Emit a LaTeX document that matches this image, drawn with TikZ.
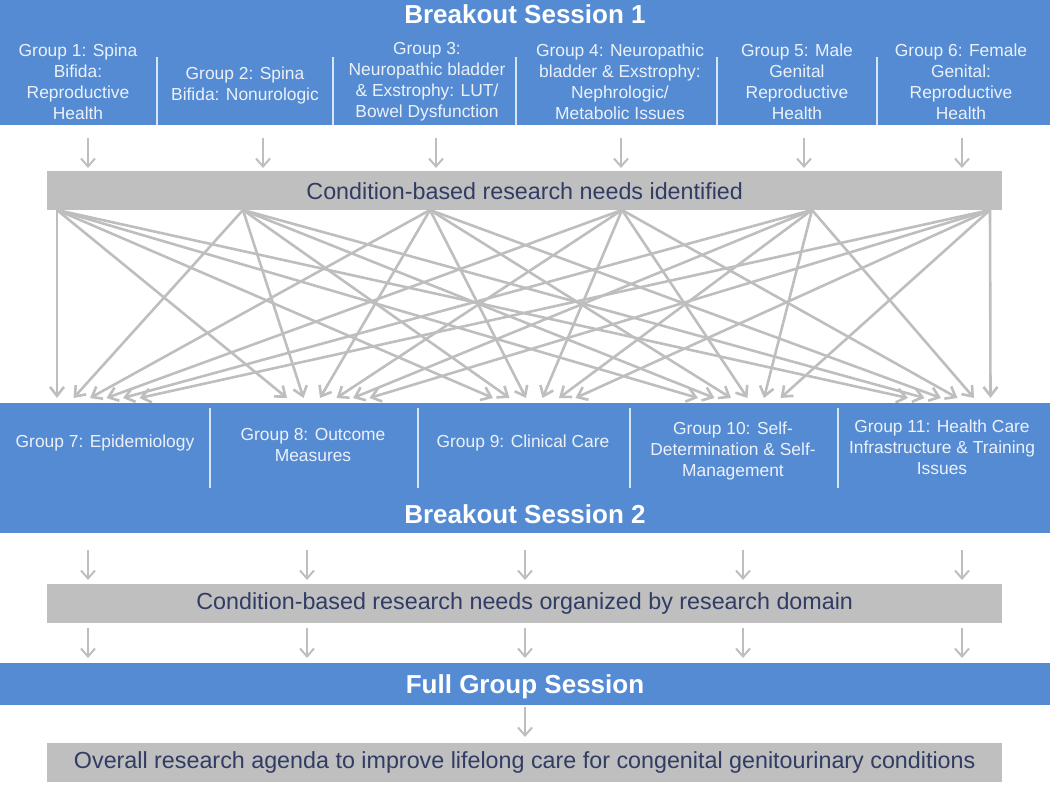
\documentclass[tikz,border=0pt]{standalone}
\usepackage{fontspec}
\setmainfont{Liberation Sans}
\usetikzlibrary{arrows.meta}
\definecolor{bandblue}{RGB}{84,139,211}
\definecolor{boxgray}{RGB}{191,191,191}
\definecolor{arrowgray}{RGB}{190,190,190}
\definecolor{navytext}{RGB}{48,60,100}
\definecolor{grouptext}{RGB}{236,241,249}
\definecolor{sepline}{RGB}{215,228,245}
\begin{document}
\begin{tikzpicture}[x=1pt,y=-1pt,
  band/.style={fill=bandblue,draw=none,inner sep=0pt,anchor=north west,minimum width=1050pt},
  sessiontitle/.style={text=white,font=\fontsize{26}{30}\selectfont\bfseries,inner sep=0pt},
  grp/.style={text=grouptext,font=\fontsize{17.4}{21}\selectfont,align=center,inner sep=0pt},
  graybox/.style={fill=boxgray,draw=none,anchor=north west,minimum width=955pt,minimum height=39pt,inner sep=0pt,text=navytext,font=\fontsize{23.3}{27}\selectfont},
  sepl/.style={draw=sepline,line width=2pt},
  downarrow/.style={draw=arrowgray,line width=2pt,-{Straight Barb[length=8pt,width=14pt]}},
  crossarrow/.style={draw=arrowgray,line width=2.6pt,-{Straight Barb[length=9pt,width=14pt]}}
]
\useasboundingbox (0,0) rectangle (1050,786);

% ---------- Breakout session 1 ----------
\node[band,minimum height=125pt] (band1) at (0,0) {};
\node[sessiontitle] (t1) at (525,14) {Breakout Session 1};
\node[grp] (g1) at (78,82) {Group 1: Spina\\Bifida:\\Reproductive\\Health};
\node[grp] (g2) at (245,86) {Group 2: Spina\\Bifida: Nonurologic};
\node[grp] (g3) at (427,82) {Group 3:\\Neuropathic bladder\\\& Exstrophy: LUT/\\Bowel Dysfunction};
\node[grp] (g4) at (620,82) {Group 4: Neuropathic\\bladder \& Exstrophy:\\Nephrologic/\\Metabolic Issues};
\node[grp] (g5) at (797,82) {Group 5: Male\\Genital\\Reproductive\\Health};
\node[grp] (g6) at (961,82) {Group 6: Female\\Genital:\\Reproductive\\Health};
\foreach \x in {157,333,516,717,877} \draw[sepl] (\x,57) -- (\x,125);

\node[graybox] (box1) at (47,171) {};
\node[text=navytext,font=\fontsize{23.3}{27}\selectfont,inner sep=0pt] at (box1.center) {Condition-based research needs identified};

\foreach \x [count=\k] in {88,263,436,621,804,962} {
  \coordinate (a\k) at (\x,138);
  \draw[downarrow,shorten >=3pt] (a\k) -- (a\k |- box1.north);
}

% ---------- crossing connectors ----------
\foreach \sx [count=\i] in {57,243,430,622,812,990} {
  \coordinate (s\i) at (\sx,210);
  \foreach \bx [count=\j] in {57,287,493,698,908} {
    \coordinate (t\j-\i) at ({\bx+(\i-1)*16.5},398);
    \draw[crossarrow] (s\i) -- (t\j-\i);
  }
}

% ---------- Breakout session 2 ----------
\node[band,minimum height=130pt] (band2) at (0,403) {};
\node[grp] (g7) at (105,443) {Group 7: Epidemiology};
\node[grp] (g8) at (313,445) {Group 8: Outcome\\Measures};
\node[grp] (g9) at (523,443) {Group 9: Clinical Care};
\node[grp] (g10) at (733,451) {Group 10: Self-\\Determination \& Self-\\Management};
\node[grp] (g11) at (942,447) {Group 11: Health Care\\Infrastructure \& Training\\Issues};
\foreach \x in {210,418,630,838} \draw[sepl] (\x,408) -- (\x,488);
\node[sessiontitle] (t2) at (525,514) {Breakout Session 2};

\node[graybox] (box2) at (47,584) {};
\node[text=navytext,font=\fontsize{23.3}{27}\selectfont,inner sep=0pt] at (box2.center) {Condition-based research needs organized by research domain};

\foreach \x [count=\k] in {88,307,525,743,962} {
  \coordinate (b\k) at (\x,550);
  \draw[downarrow,shorten >=4pt] (b\k) -- (b\k |- box2.north);
  \coordinate (c\k) at (\x,628);
}

% ---------- Full group session ----------
\node[band,minimum height=42pt] (band3) at (0,663) {};
\node[sessiontitle] (t3) at (525,687) {Full Group Session};
\foreach \k in {1,...,5} \draw[downarrow,shorten >=5pt] (c\k) -- (c\k |- band3.north);

\node[graybox] (box3) at (47,743) {};
\node[text=navytext,font=\fontsize{23.3}{27}\selectfont,inner sep=0pt] at (box3.center) {Overall research agenda to improve lifelong care for congenital genitourinary conditions};
\coordinate (d1) at (525,707);
\draw[downarrow,shorten >=6pt] (d1) -- (d1 |- box3.north);
\end{tikzpicture}
\end{document}
